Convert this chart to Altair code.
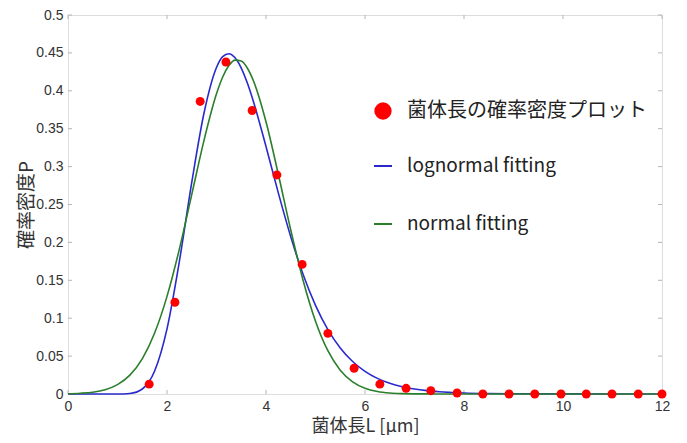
import altair as alt
import pandas as pd

# ---- data ----
pt_x = [1.64, 2.16, 2.67, 3.19, 3.72, 4.22, 4.73, 5.25, 5.78, 6.30, 6.83,
        7.33, 7.86, 8.38, 8.91, 9.43, 9.96, 10.47, 10.99, 11.52, 12.0]
pt_y = [0.013, 0.121, 0.386, 0.438, 0.374, 0.289, 0.171, 0.080, 0.034, 0.013, 0.0075,
        0.0044, 0.0013, 0.0, 0.0, 0.0, 0.0, 0.0, 0.0, 0.0, 0.0]

curve_x = [0, 0.25, 0.5, 0.75, 1.0, 1.25, 1.5, 1.75, 2.0, 2.25, 2.5, 2.75, 3.0, 3.125,
           3.25, 3.375, 3.5, 3.625, 3.75, 4.0, 4.25, 4.5, 4.75, 5.0, 5.25, 5.5, 5.75,
           6.0, 6.25, 6.5, 6.75, 7.0, 7.25, 7.5, 7.75, 8.0, 8.5, 9.0, 10.0, 11.0, 12.0]
lognormal_y = [0, 0, 0, 0, 0.0, 0.0007, 0.0066, 0.0304, 0.0860, 0.1749, 0.2792, 0.3714,
               0.4308, 0.4450, 0.4489, 0.4435, 0.4300, 0.4099, 0.3850, 0.3265, 0.2650,
               0.2075, 0.1577, 0.1170, 0.0850, 0.0608, 0.0429, 0.0299, 0.0206, 0.0141,
               0.0096, 0.0065, 0.0044, 0.0029, 0.0020, 0.0013, 0.0006, 0.0003, 0.0001, 0, 0]
normal_y = [0.0003, 0.0010, 0.0024, 0.0057, 0.0124, 0.0249, 0.0464, 0.0804, 0.1288, 0.1912,
            0.2631, 0.3353, 0.3960, 0.4182, 0.4333, 0.4405, 0.4393, 0.4298, 0.4126, 0.3592,
            0.2896, 0.2164, 0.1498, 0.0961, 0.0571, 0.0314, 0.0161, 0.0076, 0.0033, 0.0013,
            0.0005, 0.0002, 0.0001, 0, 0, 0, 0, 0, 0, 0, 0]

x_ticks = [0, 2, 4, 6, 8, 10, 12]
y_ticks = [0, 0.05, 0.1, 0.15, 0.2, 0.25, 0.3, 0.35, 0.4, 0.45, 0.5]

pt_label = "菌体長の確率密度プロット"
series_names = ["lognormal fitting", "normal fitting"]
x_title = "菌体長L [μm]"
y_title = "確率密度P"

# ---- tables ----
pts = pd.DataFrame({"x": pt_x, "y": pt_y, "s": pt_label})
curves = pd.concat([
    pd.DataFrame({"x": curve_x, "y": lognormal_y, "s": series_names[0]}),
    pd.DataFrame({"x": curve_x, "y": normal_y, "s": series_names[1]}),
])
xt = pd.DataFrame({"x": x_ticks})
yt = pd.DataFrame({"y": y_ticks})

W, H = 594, 379
JP = "Noto Sans CJK JP"
NUM = "Liberation Sans"

X = alt.X("x:Q", scale=alt.Scale(domain=[0, 12], nice=False, zero=False),
          axis=alt.Axis(values=x_ticks, format="~g", title=x_title, grid=False,
                        domain=False, tickSize=0, labelPadding=5, labelFlush=False,
                        labelFont=NUM, labelFontSize=14, labelColor="#333333",
                        titleFont=JP, titleFontSize=18, titleFontWeight="normal",
                        titleColor="#333333", titleBaseline="bottom", titleY=41))
Y = alt.Y("y:Q", scale=alt.Scale(domain=[0, 0.5], nice=False),
          axis=alt.Axis(values=y_ticks, format="~g", title=y_title, grid=False,
                        domain=False, tickSize=0, labelPadding=5, labelFlush=False,
                        labelFont=NUM, labelFontSize=14, labelColor="#333333",
                        titleFont=JP, titleFontSize=19, titleFontWeight="normal",
                        titleColor="#333333", titleX=-42, titleBaseline="middle"))

lines = alt.Chart(curves).mark_line(strokeWidth=1.6, interpolate="monotone").encode(
    x=X, y=Y,
    stroke=alt.Stroke("s:N",
                      scale=alt.Scale(domain=series_names, range=["#2a2acc", "#2b7f2b"]),
                      legend=alt.Legend(orient="none", legendX=305, legendY=141,
                                        title=None, symbolType="stroke", symbolSize=324,
                                        symbolStrokeWidth=2, labelFont=JP, labelFontSize=19,
                                        labelColor="#222222", labelOffset=14, labelLimit=0,
                                        rowPadding=38, padding=0)),
)

points = alt.Chart(pts).mark_circle(size=80, opacity=1).encode(
    x=X, y=Y,
    fill=alt.Fill("s:N", scale=alt.Scale(domain=[pt_label], range=["#ff0000"]),
                  legend=alt.Legend(orient="none", legendX=305, legendY=86,
                                    title=None, symbolType="circle", symbolSize=300,
                                    symbolStrokeWidth=0, labelFont=JP, labelFontSize=20,
                                    labelColor="#222222", labelOffset=14, labelLimit=0,
                                    padding=0)),
)

tick_style = dict(color="#b5b5b5", strokeWidth=1)
xb = alt.Chart(xt).mark_rule(**tick_style).encode(x=X, y=alt.value(H), y2=alt.value(H - 4))
xtop = alt.Chart(xt).mark_rule(**tick_style).encode(x=X, y=alt.value(0), y2=alt.value(4))
yl = alt.Chart(yt).mark_rule(**tick_style).encode(y=Y, x=alt.value(0), x2=alt.value(4))
yr = alt.Chart(yt).mark_rule(**tick_style).encode(y=Y, x=alt.value(W), x2=alt.value(W - 4))

chart = alt.layer(xb, xtop, yl, yr, lines, points).properties(
    width=W, height=H,
    autosize=alt.AutoSizeParams(type="none"),
    padding={"left": 60, "top": 7, "right": 17, "bottom": 41},
).resolve_scale(fill="independent", stroke="independent").configure_view(
    stroke="#c4c4c4", strokeWidth=2
).configure(background="white")

chart.save("out.html", embed_options={"renderer": "svg", "actions": False})
